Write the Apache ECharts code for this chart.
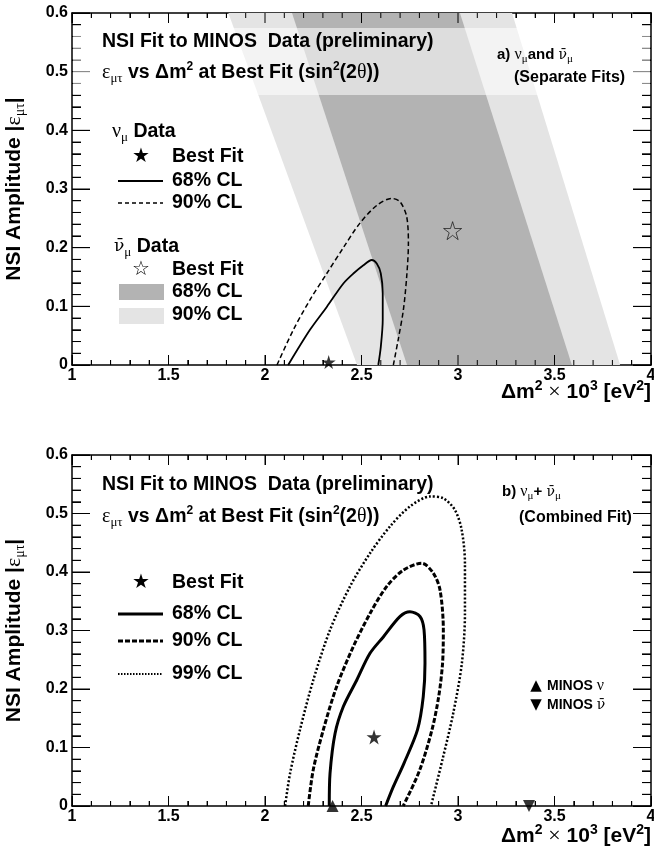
<!DOCTYPE html>
<html>
<head>
<meta charset="utf-8">
<script src="https://cdn.jsdelivr.net/npm/echarts@6/dist/echarts.min.js"></script>
<style>
  html, body { margin: 0; padding: 0; background: #fff; }
  #chart { width: 654px; height: 848px; }
</style>
</head>
<body>
<div id="chart"></div>
<script>
// ---- data ----
// a) separate fits: anti-neutrino bands (corners, dm2 x 10^3 / |eps|)
var nubar90Band = [[1.81, 0.6], [3.28, 0.6], [3.84, 0], [2.477, 0]];
var nubar68Band = [[2.14, 0.6], [3.01, 0.6], [3.59, 0], [2.736, 0]];
// neutrino contours
var numu68 = [[2.12, 0], [2.233, 0.06], [2.32, 0.099], [2.406, 0.139], [2.458, 0.156], [2.51, 0.17],
  [2.553, 0.179], [2.579, 0.173], [2.6, 0.156], [2.61, 0.122], [2.61, 0.077], [2.6, 0.031], [2.587, 0]];
var numu90 = [[2.062, 0], [2.147, 0.06], [2.233, 0.111], [2.32, 0.156], [2.406, 0.2], [2.49, 0.241],
  [2.579, 0.272], [2.656, 0.284], [2.7, 0.278], [2.734, 0.253], [2.743, 0.207], [2.734, 0.15],
  [2.717, 0.094], [2.69, 0.043], [2.665, 0]];
var bestNumu = [[2.33, 0.005]];
var bestNubar = [[2.972, 0.229]];

// b) combined fit contours
var comb68 = [[2.333, 0], [2.337, 0.056], [2.363, 0.124], [2.406, 0.17], [2.475, 0.215], [2.544, 0.261],
  [2.613, 0.289], [2.7, 0.324], [2.751, 0.332], [2.803, 0.324], [2.824, 0.301], [2.829, 0.244],
  [2.82, 0.187], [2.79, 0.13], [2.72, 0.073], [2.665, 0.033], [2.625, 0]];
var comb90 = [[2.224, 0], [2.25, 0.062], [2.302, 0.13], [2.371, 0.204], [2.457, 0.272], [2.544, 0.329],
  [2.63, 0.375], [2.716, 0.403], [2.812, 0.415], [2.872, 0.398], [2.907, 0.369], [2.924, 0.301],
  [2.92, 0.244], [2.9, 0.187], [2.865, 0.13], [2.8, 0.06], [2.716, 0]];
var comb99 = [[2.104, 0], [2.13, 0.056], [2.181, 0.13], [2.25, 0.215], [2.337, 0.301], [2.44, 0.375],
  [2.544, 0.432], [2.648, 0.478], [2.751, 0.512], [2.855, 0.529], [2.924, 0.526], [2.984, 0.506],
  [3.019, 0.472], [3.036, 0.415], [3.036, 0.329], [3.02, 0.244], [2.975, 0.158], [2.92, 0.08], [2.86, 0]];
var bestComb = [[2.565, 0.118]];
var minosNu = [[2.35, 0]];
var minosNubar = [[3.368, 0]];

// axes ranges (5 minor divisions per major step)
var xRange = [1, 4], xStep = 0.5;
var yRange = [0, 0.6], yStep = 0.1;

// ---- chart ----
var chart = echarts.init(document.getElementById("chart"));

var SANS = "Liberation Sans";
var SERIF = "Liberation Serif";
var STAR = "path://M50,0L61.2,34.6L97.6,34.5L68.1,55.9L79.4,90.5L50,69L20.6,90.5L31.9,55.9L2.4,34.5L38.8,34.6Z";
var NUBAR = "\u03bd\u0304";
var GRID_W = 579, GRID_H = 352;

var rich = {
  b: { fontFamily: SANS, fontWeight: "bold", fontSize: 19.5, lineHeight: 24, color: "#000" },
  g: { fontFamily: SERIF, fontSize: 20, lineHeight: 24, color: "#000" },
  gb: { fontFamily: "DejaVu Serif", fontSize: 17, lineHeight: 24, color: "#000" },
  s: { fontFamily: SERIF, fontSize: 13, lineHeight: 24, verticalAlign: "bottom", color: "#000" },
  sup: { fontFamily: SANS, fontWeight: "bold", fontSize: 12, lineHeight: 24, verticalAlign: "top", color: "#000" },
  b2: { fontFamily: SANS, fontWeight: "bold", fontSize: 15, lineHeight: 20, color: "#000" },
  c2: { fontFamily: SANS, fontWeight: "bold", fontSize: 16, lineHeight: 20, color: "#000" },
  m2: { fontFamily: SANS, fontWeight: "bold", fontSize: 14, lineHeight: 20, color: "#000" },
  g2: { fontFamily: SERIF, fontSize: 16, lineHeight: 20, color: "#000" },
  gb2: { fontFamily: "DejaVu Serif", fontSize: 14, lineHeight: 20, color: "#000" },
  s2: { fontFamily: SERIF, fontSize: 11, lineHeight: 20, verticalAlign: "bottom", color: "#000" },
  B: { fontFamily: SANS, fontWeight: "bold", fontSize: 21, lineHeight: 26, color: "#000" },
  G: { fontFamily: SERIF, fontSize: 22, lineHeight: 26, color: "#000" },
  S: { fontFamily: SERIF, fontSize: 14, lineHeight: 26, verticalAlign: "bottom", color: "#000" },
  P: { fontFamily: SANS, fontWeight: "bold", fontSize: 14, lineHeight: 26, verticalAlign: "top", color: "#000" }
};

function xAxes(g) {
  var base = {
    gridIndex: g, type: "value", min: xRange[0], max: xRange[1], interval: xStep,
    axisLine: { show: true, onZero: false, lineStyle: { color: "#000", width: 1.5 } },
    axisTick: { show: true, inside: true, length: 10, lineStyle: { color: "#000", width: 1 } },
    minorTick: { show: true, splitNumber: 5, length: 5, lineStyle: { color: "#000", width: 1 } },
    splitLine: { show: false }
  };
  return [
    Object.assign({}, base, {
      position: "bottom",
      axisLabel: { show: true, color: "#000", fontFamily: SANS, fontWeight: "bold", fontSize: 16, margin: 3 }
    }),
    Object.assign({}, base, { position: "top", axisLabel: { show: false } })
  ];
}

function yAxes(g) {
  var base = {
    gridIndex: g, type: "value", min: yRange[0], max: yRange[1], interval: yStep,
    axisLine: { show: true, onZero: false, lineStyle: { color: "#000", width: 1.5 } },
    axisTick: { show: true, inside: true, length: 18, lineStyle: { color: "#000", width: 1 } },
    minorTick: { show: true, splitNumber: 5, length: 9, lineStyle: { color: "#000", width: 1 } },
    splitLine: { show: false }
  };
  return [
    Object.assign({}, base, {
      position: "left",
      axisLabel: { show: true, color: "#000", fontFamily: SANS, fontWeight: "bold", fontSize: 16, margin: 4 },
      name: "{B|NSI Amplitude |}{G|\u03b5}{S|\u03bc\u03c4}{B||}",
      nameLocation: "middle", nameGap: 45, nameRotate: 90,
      nameTextStyle: { rich: rich }
    }),
    Object.assign({}, base, { position: "right", axisLabel: { show: false } })
  ];
}

// backup tick marks drawn as a broken line series (same positions as the axis ticks)
function tickValues(range, step) {
  var out = [];
  var n = Math.round((range[1] - range[0]) / step * 5);
  for (var k = 0; k <= n; k++) out.push({ v: range[0] + k * step / 5, major: k % 5 === 0 });
  return out;
}

function tickLines(xi, yi) {
  var perY = (yRange[1] - yRange[0]) / GRID_H;   // data units per pixel
  var perX = (xRange[1] - xRange[0]) / GRID_W;
  var d = [];
  tickValues(xRange, xStep).forEach(function (t) {
    var l = (t.major ? 10 : 5) * perY;
    d.push([t.v, yRange[0]], [t.v, yRange[0] + l], ["-", "-"]);
    d.push([t.v, yRange[1]], [t.v, yRange[1] - l], ["-", "-"]);
  });
  tickValues(yRange, yStep).forEach(function (t) {
    var l = (t.major ? 18 : 9) * perX;
    d.push([xRange[0], t.v], [xRange[0] + l, t.v], ["-", "-"]);
    d.push([xRange[1], t.v], [xRange[1] - l, t.v], ["-", "-"]);
  });
  return {
    type: "line", data: d, xAxisIndex: xi, yAxisIndex: yi,
    showSymbol: false, connectNulls: false, silent: true, z: 3, clip: false,
    lineStyle: { color: "#000", width: 1 }
  };
}

function band(points, color, xi, yi) {
  return {
    type: "custom", xAxisIndex: xi, yAxisIndex: yi, silent: true,
    data: [points[0]],
    renderItem: function (params, api) {
      return {
        type: "polygon",
        shape: { points: points.map(function (p) { return api.coord(p); }) },
        style: { fill: color }
      };
    }
  };
}

function contour(data, width, dash, xi, yi) {
  return {
    type: "line", data: data, xAxisIndex: xi, yAxisIndex: yi,
    showSymbol: false, smooth: 0.3, silent: true, z: 4,
    lineStyle: { color: "#000", width: width, type: dash }
  };
}

function mark(data, symbol, size, style, xi, yi, rotate) {
  return {
    type: "scatter", data: data, xAxisIndex: xi, yAxisIndex: yi,
    symbol: symbol, symbolSize: size, symbolRotate: rotate || 0, silent: true, z: 5,
    itemStyle: style
  };
}

function txt(x, y, text) {
  return {
    type: "text", x: x, y: y, z: 20,
    style: { text: text, rich: rich, verticalAlign: "middle", align: "left" }
  };
}

function glyph(x, y, ch, size) {
  return {
    type: "text", x: x, y: y, z: 20,
    style: { text: ch, fontSize: size, fontFamily: "DejaVu Sans", fill: "#000", align: "center", verticalAlign: "middle" }
  };
}

function hline(x1, x2, y, width, dash) {
  var el = {
    type: "line", z: 20,
    shape: { x1: x1, y1: y, x2: x2, y2: y },
    style: { stroke: "#000", lineWidth: width }
  };
  if (dash) el.style.lineDash = dash;
  return el;
}

var xTitle = "{B|\u0394m}{P|2}{B| }{G|\u00d7}{B| 10}{P|3}{B| [eV}{P|2}{B|]}";
var line2 = "{g|\u03b5}{s|\u03bc\u03c4}{b| vs \u0394m}{sup|2}{b| at Best Fit (sin}{sup|2}{b|(2}{g|\u03b8}{b|))}";

var xTitleTop = txt(651, 392, xTitle);
xTitleTop.style.align = "right";
var xTitleBot = txt(651, 836, xTitle);
xTitleBot.style.align = "right";

var option = {
  animation: false,
  grid: [
    { left: 72, top: 13, width: GRID_W, height: GRID_H, containLabel: false, outerBoundsMode: "none" },
    { left: 72, top: 455, width: GRID_W, height: 351, containLabel: false, outerBoundsMode: "none" }
  ],
  xAxis: xAxes(0).concat(xAxes(1)),
  yAxis: yAxes(0).concat(yAxes(1)),
  series: [
    band(nubar90Band, "#e4e4e4", 0, 0),
    band(nubar68Band, "#b3b3b3", 0, 0),
    tickLines(0, 0),
    contour(numu68, 1.8, "solid", 0, 0),
    contour(numu90, 1.5, [5, 3], 0, 0),
    mark(bestNumu, STAR, 14, { color: "#000" }, 0, 0),
    mark(bestNubar, STAR, 18, { color: "rgba(0,0,0,0)", borderColor: "#000", borderWidth: 0.8 }, 0, 0),

    tickLines(2, 2),
    contour(comb68, 3, "solid", 2, 2),
    contour(comb90, 3, [5, 2], 2, 2),
    contour(comb99, 2.5, [2, 2], 2, 2),
    mark(bestComb, STAR, 15, { color: "#000" }, 2, 2),
    mark(minosNu, "triangle", 12, { color: "#000" }, 2, 2),
    mark(minosNubar, "triangle", 12, { color: "#000" }, 2, 2, 180)
  ],
  graphic: [
    // title pave, top panel
    { type: "rect", z: 8, shape: { x: 73, y: 28, width: 577, height: 67 }, style: { fill: "rgba(255,255,255,0.55)" } },

    // ---- panel a ----
    txt(102, 42, "{b|NSI Fit to MINOS  Data (preliminary)}"),
    txt(102, 73, line2),
    txt(497, 55, "{b2|a) }{g2|\u03bd}{s2|\u03bc}{b2|and }{gb2|" + NUBAR + "}{s2|\u03bc}"),
    txt(514, 78, "{c2|(Separate Fits)}"),

    txt(112, 132, "{g|\u03bd}{s|\u03bc}{b| Data}"),
    glyph(141, 157, "\u2605", 20),
    txt(172, 157, "{b|Best Fit}"),
    hline(118, 163, 181, 2),
    txt(172, 181, "{b|68% CL}"),
    hline(118, 163, 203, 1.5, [4, 3]),
    txt(172, 203, "{b|90% CL}"),

    txt(114, 247, "{gb|" + NUBAR + "}{s|\u03bc}{b| Data}"),
    glyph(141, 270, "\u2606", 20),
    txt(172, 270, "{b|Best Fit}"),
    { type: "rect", z: 20, shape: { x: 119, y: 284, width: 45, height: 16 }, style: { fill: "#b3b3b3" } },
    txt(172, 292, "{b|68% CL}"),
    { type: "rect", z: 20, shape: { x: 119, y: 308, width: 45, height: 16 }, style: { fill: "#e4e4e4" } },
    txt(172, 315, "{b|90% CL}"),

    xTitleTop,

    // ---- panel b ----
    txt(102, 485, "{b|NSI Fit to MINOS  Data (preliminary)}"),
    txt(102, 517, line2),
    txt(502, 492, "{b2|b) }{g2|\u03bd}{s2|\u03bc}{b2|+ }{gb2|" + NUBAR + "}{s2|\u03bc}"),
    txt(519, 518, "{c2|(Combined Fit)}"),

    glyph(141, 583, "\u2605", 20),
    txt(172, 583, "{b|Best Fit}"),
    hline(118, 163, 614, 3),
    txt(172, 614, "{b|68% CL}"),
    hline(118, 163, 641, 3, [5, 2]),
    txt(172, 641, "{b|90% CL}"),
    hline(118, 163, 674, 2, [1.5, 1.5]),
    txt(172, 674, "{b|99% CL}"),

    glyph(536, 686, "\u25b2", 15),
    txt(547, 686, "{m2|MINOS }{g2|\u03bd}"),
    glyph(536, 705, "\u25bc", 15),
    txt(547, 705, "{m2|MINOS }{gb2|" + NUBAR + "}"),

    xTitleBot
  ]
};

chart.setOption(option);
</script>
</body>
</html>
